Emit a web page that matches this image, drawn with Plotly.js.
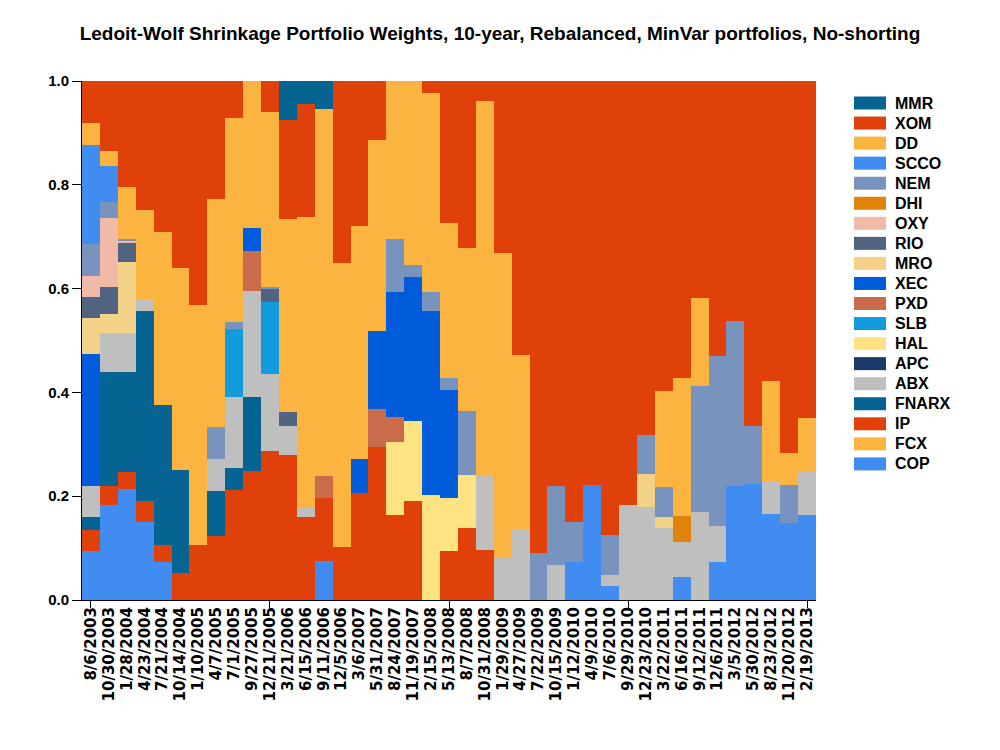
<!DOCTYPE html>
<html>
<head>
<meta charset="utf-8">
<script src="https://cdn.plot.ly/plotly-3.0.1.min.js"></script>
<style>
  html, body { margin: 0; padding: 0; background: #ffffff; }
  #chart { width: 1000px; height: 750px; }
</style>
</head>
<body>
<div id="chart"></div>
<script>
// ---- Data ----
const dates = ["8/6/2003","10/30/2003","1/28/2004","4/23/2004","7/21/2004","10/14/2004","1/10/2005","4/7/2005","7/1/2005","9/27/2005",
  "12/21/2005","3/21/2006","6/15/2006","9/11/2006","12/5/2006","3/6/2007","5/31/2007","8/24/2007","11/19/2007","2/15/2008",
  "5/13/2008","8/7/2008","10/31/2008","1/29/2009","4/27/2009","7/22/2009","10/15/2009","1/12/2010","4/9/2010","7/6/2010",
  "9/29/2010","12/23/2010","3/22/2011","6/16/2011","9/12/2011","12/6/2011","3/5/2012","5/30/2012","8/23/2012","11/20/2012","2/19/2013"];

// Stack order, bottom to top
const tickers = ["COP","FCX","IP","FNARX","ABX","APC","HAL","SLB","PXD","XEC","MRO","RIO","OXY","DHI","NEM","SCCO","DD","XOM","MMR"];
const colors  = ["#418CF0","#FCB441","#E0400A","#056492","#BFBFBF","#1A3B69","#FFE382","#129CDD","#CA6B4B","#005CDB","#F3D288","#506381","#F1B9A8","#E0830A","#7893BE","#418CF0","#FCB441","#E0400A","#056492"];

const COP   = [0.094,0.183,0.214,0.150,0.073,0,0,0,0,0, 0,0,0,0.075,0,0,0,0,0,0, 0,0,0,0,0,0,0,0.073,0.222,0.027, 0,0,0,0.044,0,0.073,0.220,0.224,0.166,0.148,0.164];
const FCX   = [0,0,0,0,0,0,0,0,0,0, 0,0,0,0,0,0,0,0,0,0, 0,0,0,0,0,0,0,0,0,0, 0,0,0,0,0,0,0,0,0,0,0];
const IP    = [0.041,0.037,0.033,0.041,0.033,0.052,0.106,0.123,0.212,0.249, 0.287,0.279,0.160,0.122,0.102,0.206,0.295,0.164,0.191,0, 0.094,0.139,0.096,0,0,0,0,0,0,0, 0,0,0,0,0,0,0,0,0,0,0];
const FNARX = [0.024,0.219,0.192,0.366,0.270,0.198,0,0.087,0.042,0.142, 0,0,0,0,0,0,0,0,0,0, 0,0,0,0,0,0,0,0,0,0, 0,0,0,0,0,0,0,0,0,0,0];
const ABX   = [0.061,0.075,0.075,0.023,0,0,0,0.062,0.137,0.204, 0.148,0.056,0.017,0,0,0,0,0,0,0, 0,0,0.143,0.081,0.137,0,0.067,0,0,0.021, 0.183,0.179,0.139,0.068,0.170,0.070,0,0,0.061,0,0.083];
const APC   = [0,0,0,0,0,0,0,0,0,0, 0,0,0,0,0,0,0,0,0,0, 0,0,0,0,0,0,0,0,0,0, 0,0,0,0,0,0,0,0,0,0,0];
const HAL   = [0,0,0,0,0,0,0,0,0,0, 0,0,0,0,0,0,0,0.140,0.154,0.202, 0.103,0.102,0,0,0,0,0,0,0,0, 0,0,0,0,0,0,0,0,0,0,0];
const SLB   = [0,0,0,0,0,0,0,0,0.131,0, 0.139,0,0,0,0,0,0,0,0,0, 0,0,0,0,0,0,0,0,0,0, 0,0,0,0,0,0,0,0,0,0,0];
const PXD   = [0,0,0,0,0,0,0,0,0,0.077, 0,0,0,0.042,0,0,0.073,0.049,0,0, 0,0,0,0,0,0,0,0,0,0, 0,0,0,0,0,0,0,0,0,0,0];
const XEC   = [0.254,0,0,0,0,0,0,0,0,0.045, 0,0,0,0,0,0.066,0.150,0.240,0.277,0.355, 0.208,0,0,0,0,0,0,0,0,0, 0,0,0,0,0,0,0,0,0,0,0];
const MRO   = [0.069,0.037,0.137,0,0,0,0,0,0,0, 0,0,0,0,0,0,0,0,0,0, 0,0,0,0,0,0,0,0,0,0, 0,0.064,0.021,0,0,0,0,0,0,0,0];
const RIO   = [0.041,0.052,0.037,0,0,0,0,0,0,0, 0.025,0.027,0,0,0,0,0,0,0,0, 0,0,0,0,0,0,0,0,0,0, 0,0,0,0,0,0,0,0,0,0,0];
const OXY   = [0.040,0.133,0.004,0,0,0,0,0,0,0, 0,0,0,0,0,0,0,0,0,0, 0,0,0,0,0,0,0,0,0,0, 0,0,0,0,0,0,0,0,0,0,0];
const DHI   = [0,0,0,0,0,0,0,0,0,0, 0,0,0,0,0,0,0,0,0,0, 0,0,0,0,0,0,0,0,0,0, 0,0,0,0.050,0,0,0,0,0,0,0];
const NEM   = [0.062,0.031,0.004,0,0,0,0,0.061,0.014,0, 0.004,0,0,0,0,0,0,0.103,0.023,0.036, 0.023,0.123,0,0,0,0.091,0.153,0.077,0,0.077, 0,0.075,0.058,0,0.242,0.327,0.318,0.111,0,0.074,0];
const SCCO  = [0.191,0.069,0,0,0,0,0,0,0,0, 0,0,0,0,0,0,0,0,0,0, 0,0,0,0,0,0,0,0,0,0, 0,0,0,0,0,0,0,0,0,0,0];
const DD    = [0.042,0.029,0.100,0.171,0.333,0.390,0.462,0.440,0.393,0.283, 0.337,0.372,0.561,0.707,0.547,0.449,0.368,0.304,0.355,0.384, 0.298,0.314,0.722,0.588,0.335,0,0,0,0,0, 0,0,0.185,0.266,0.170,0,0,0,0.195,0.061,0.104];
const XOM   = [0.081,0.135,0.204,0.249,0.291,0.360,0.432,0.227,0.071,0, 0.060,0.191,0.218,0,0.351,0.279,0.114,0,0,0.023, 0.274,0.322,0.039,0.331,0.528,0.909,0.780,0.850,0.778,0.875, 0.817,0.682,0.597,0.572,0.418,0.530,0.462,0.665,0.578,0.717,0.649];
const MMR   = [0,0,0,0,0,0,0,0,0,0, 0,0.075,0.044,0.054,0,0,0,0,0,0, 0,0,0,0,0,0,0,0,0,0, 0,0,0,0,0,0,0,0,0,0,0];

const seriesValues = {COP, FCX, IP, FNARX, ABX, APC, HAL, SLB, PXD, XEC, MRO, RIO, OXY, DHI, NEM, SCCO, DD, XOM, MMR};
const yTicks = [0, 0.2, 0.4, 0.6, 0.8, 1.0];
const majorTickIdx = [0, 10, 20, 30, 40];

// ---- Traces ----
const traces = tickers.map((t, i) => ({
  type: 'bar',
  name: t,
  x: dates,
  y: seriesValues[t],
  marker: {color: colors[i], line: {width: 0}},
  showlegend: false,
  hovertemplate: t + ': %{y:.3f}<extra></extra>'
}));
// helper trace for the major tick axis
traces.push({type: 'scatter', x: [null], y: [null], xaxis: 'x2', yaxis: 'y', showlegend: false, hoverinfo: 'skip'});

// ---- Custom legend (top of legend = top of stack) ----
const W = 1000, H = 750;
const mL = 82, mR = 184, mT = 81, mB = 150;
const pw = W - mL - mR, ph = H - mT - mB;
const px2x = p => (p - mL) / pw;
const py2y = p => (H - mB - p) / ph;

const shapes = [];
const annotations = [];
const legendOrder = tickers.map((t, i) => i).reverse();
legendOrder.forEach((idx, row) => {
  const cy = 103 + row * 20.05;
  shapes.push({type: 'rect', xref: 'paper', yref: 'paper',
    x0: px2x(854), x1: px2x(886), y0: py2y(cy + 6.5), y1: py2y(cy - 6.5),
    fillcolor: colors[idx], line: {width: 0}});
  annotations.push({xref: 'paper', yref: 'paper', x: px2x(893), y: py2y(cy),
    xanchor: 'left', yanchor: 'middle', showarrow: false, text: tickers[idx],
    font: {family: 'Liberation Sans, Arial, sans-serif', size: 16, color: '#000', weight: 700}});
});

const layout = {
  width: W, height: H,
  margin: {l: mL, r: mR, t: mT, b: mB, pad: 0},
  paper_bgcolor: '#ffffff', plot_bgcolor: '#ffffff',
  barmode: 'stack', bargap: 0,
  showlegend: false,
  title: {
    text: 'Ledoit-Wolf Shrinkage Portfolio Weights, 10-year, Rebalanced, MinVar portfolios, No-shorting',
    font: {family: 'Liberation Sans, Arial, sans-serif', size: 19, color: '#000', weight: 700},
    x: 0.5, xref: 'container', xanchor: 'center', y: 1 - 33 / H, yref: 'container', yanchor: 'middle'
  },
  xaxis: {
    type: 'category', range: [-0.5, dates.length - 0.5],
    tickmode: 'array', tickvals: dates, ticktext: dates,
    tickangle: -90, ticks: '', showgrid: false, zeroline: false,
    showline: true, linecolor: '#000', linewidth: 1,
    tickfont: {family: 'DejaVu Sans, sans-serif', size: 15, color: '#000', weight: 700},
    automargin: false
  },
  xaxis2: {
    overlaying: 'x', anchor: 'y', side: 'bottom', type: 'linear',
    range: [-0.5, dates.length - 0.5],
    tickmode: 'array', tickvals: majorTickIdx, showticklabels: false,
    ticks: 'outside', ticklen: 7, tickwidth: 1, tickcolor: '#000',
    showgrid: false, zeroline: false, showline: false
  },
  yaxis: {
    range: [0, 1], tickmode: 'array', tickvals: yTicks, tickformat: '.1f',
    ticks: 'outside', ticklen: 9, tickwidth: 1, tickcolor: '#000',
    showline: true, linecolor: '#000', linewidth: 1,
    showgrid: false, zeroline: false,
    tickfont: {family: 'Liberation Sans, Arial, sans-serif', size: 15, color: '#000', weight: 700},
    automargin: false
  },
  shapes: shapes,
  annotations: annotations
};

Plotly.newPlot('chart', traces, layout, {displayModeBar: false, staticPlot: true});
</script>
</body>
</html>
